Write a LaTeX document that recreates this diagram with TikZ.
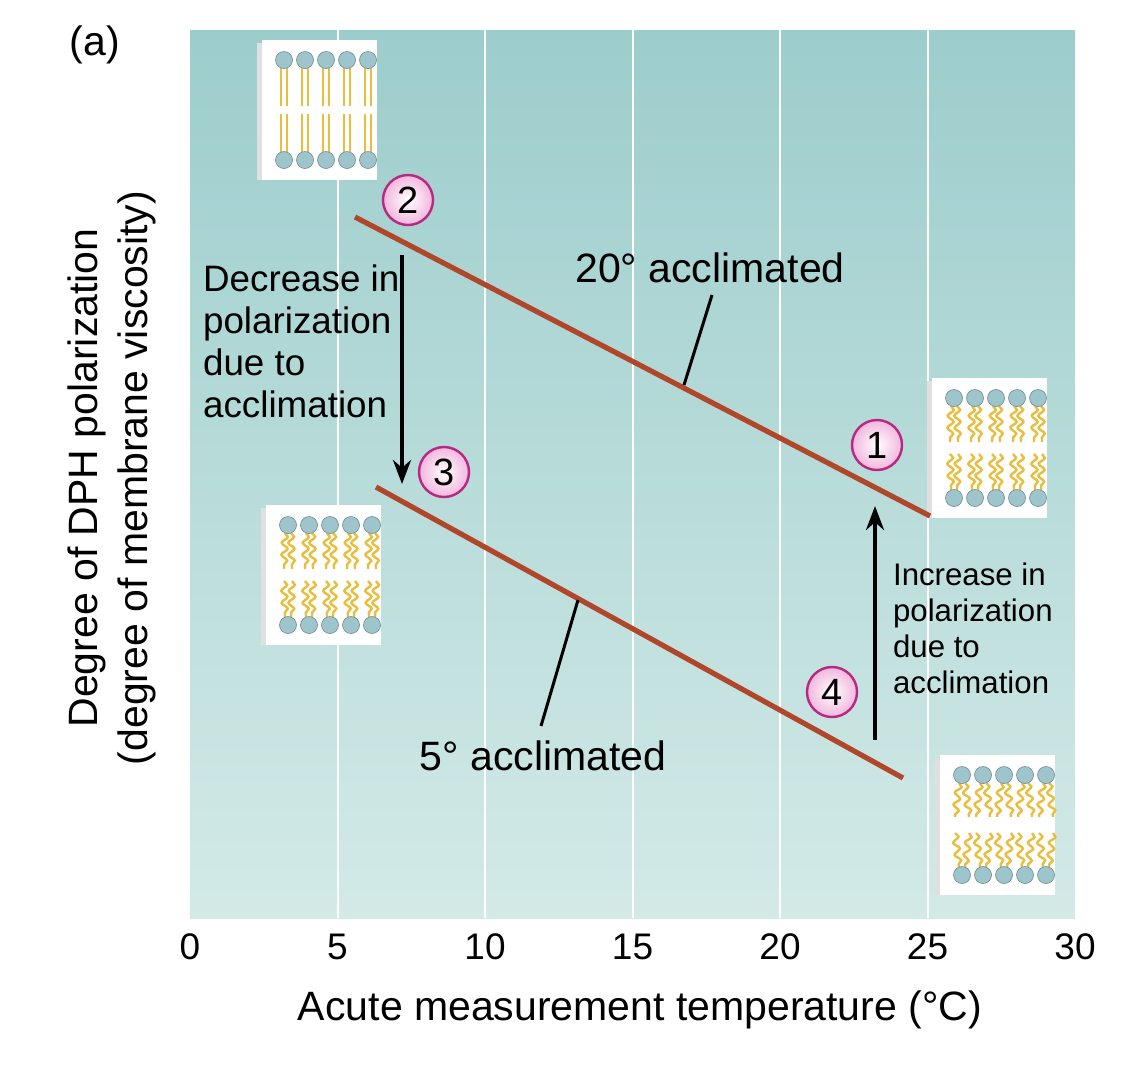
\documentclass[tikz,border=0pt]{standalone}
\usepackage{fontspec}
\setmainfont{Liberation Sans}
\usetikzlibrary{arrows.meta,decorations.pathmorphing,shadings}
\definecolor{redl}{HTML}{B0462A}
\definecolor{tealtop}{HTML}{9CCDCC}
\definecolor{tealbot}{HTML}{D3EAE7}
\definecolor{headc}{HTML}{9EC4CC}
\definecolor{tailc}{HTML}{E8BE3C}
\definecolor{pinkc}{HTML}{F2B6DE}
\definecolor{magc}{HTML}{B8287E}
\tikzset{
  redline/.style={redl,line width=2.6pt},
  leader/.style={black,line width=1.5pt},
  numc/.style={circle,draw=magc,line width=1.2pt,inner color=white,outer color=pinkc,minimum size=25pt,inner sep=0pt,font=\fontsize{19}{19}\selectfont},
  arr/.style={black,line width=2pt,-{Stealth[length=12pt,width=9pt]}},
  lbl/.style={font=\fontsize{20.5}{25}\selectfont},
  smalllbl/.style={font=\fontsize{15.6}{18}\selectfont,align=left,anchor=north west},
  biglbl/.style={font=\fontsize{18.4}{21}\selectfont,align=left,anchor=north west},
  tick/.style={font=\fontsize{18.5}{18}\selectfont},
  head/.style={circle,fill=headc,draw=headc!70!black,line width=0.3pt,inner sep=0,minimum size=8.5pt},
  tailw/.style={tailc,line width=1.2pt,decorate,decoration={snake,amplitude=1.5pt,segment length=6pt}},
  tails/.style={tailc,line width=1.3pt},
  membrane/.pic={
    \fill[black!12] (-5,3) rectangle (115,140);
    \fill[white] (0,0) rectangle (115,140);
    \foreach \i in {0,...,4}{
      \ifcase#1
        \draw[tails] (22+\i*21-3,28) -- (22+\i*21-3,66); \draw[tails] (22+\i*21+3,28) -- (22+\i*21+3,66);
        \draw[tails] (22+\i*21-3,74) -- (22+\i*21-3,112); \draw[tails] (22+\i*21+3,74) -- (22+\i*21+3,112);
      \or
        \draw[tailw] (22+\i*21-3,28) -- (22+\i*21-4,64); \draw[tailw] (22+\i*21+3,28) -- (22+\i*21+4,64);
        \draw[tailw] (22+\i*21-4,76) -- (22+\i*21-3,112); \draw[tailw] (22+\i*21+4,76) -- (22+\i*21+3,112);
      \or
        \draw[tailw] (22+\i*21-3,28) -- (22+\i*21-7,62); \draw[tailw] (22+\i*21+3,28) -- (22+\i*21+7,62);
        \draw[tailw] (22+\i*21-7,78) -- (22+\i*21-3,112); \draw[tailw] (22+\i*21+7,78) -- (22+\i*21+3,112);
      \fi
      \node[head] at (22+\i*21,20) {};
      \node[head] at (22+\i*21,120) {};
    }
  }
}
\begin{document}
\begin{tikzpicture}[x=0.5pt,y=-0.5pt]
\useasboundingbox (0,0) rectangle (1138,1078);
\fill[white] (0,0) rectangle (1138,1078);
\shade[top color=tealtop,bottom color=tealbot] (190,30) rectangle (1075,918);
\foreach \x in {337.5,485,632.5,780,927.5} \draw[white,line width=1pt] (\x,30) -- (\x,918);
\node[lbl] (a) at (95,45) {(a)};
% membranes
\pic at (262,40) {membrane=0};
\pic at (932,378) {membrane=1};
\pic at (266,505) {membrane=1};
\pic at (940,755) {membrane=2};
% lines
\coordinate (l20a) at (355,217); \coordinate (l20b) at (930,516);
\coordinate (l5a) at (376,487); \coordinate (l5b) at (903,778);
\draw[redline] (l20a) -- (l20b);
\draw[redline] (l5a) -- (l5b);
\node[lbl] (t20) at (710,268) {20° acclimated};
\node[lbl] (t5) at (543,756) {5° acclimated};
\coordinate (p20) at (684,385); \coordinate (p5) at (578,600);
\draw[leader] (712,295) -- (p20);
\draw[leader] (p5) -- (541,726);
% arrows
\coordinate (d1) at (402,255); \coordinate (d2) at (402,484);
\coordinate (u1) at (875,740); \coordinate (u2) at (875,506);
\draw[arr] (d1) -- (d2);
\draw[arr] (u1) -- (u2);
\node[biglbl] (dec) at (196,258) {Decrease in\\polarization\\due to\\acclimation};
\node[smalllbl] (inc) at (886,556) {Increase in\\polarization\\due to\\acclimation};
% circles
\node[numc] (c2) at (408,200) {2};
\node[numc] (c3) at (444,472) {3};
\node[numc] (c1) at (877,445) {1};
\node[numc] (c4) at (832,692) {4};
% ticks
\foreach \v in {0,5,...,30} \node[tick] at (190+\v*29.5,947) {\v};
\node[lbl] (xl) at (640,1010) {Acute measurement temperature (°C)};
\node[lbl,rotate=90,align=center] (yl) at (112,478) {Degree of DPH polarization\\(degree of membrane viscosity)};
\end{tikzpicture}
\end{document}
